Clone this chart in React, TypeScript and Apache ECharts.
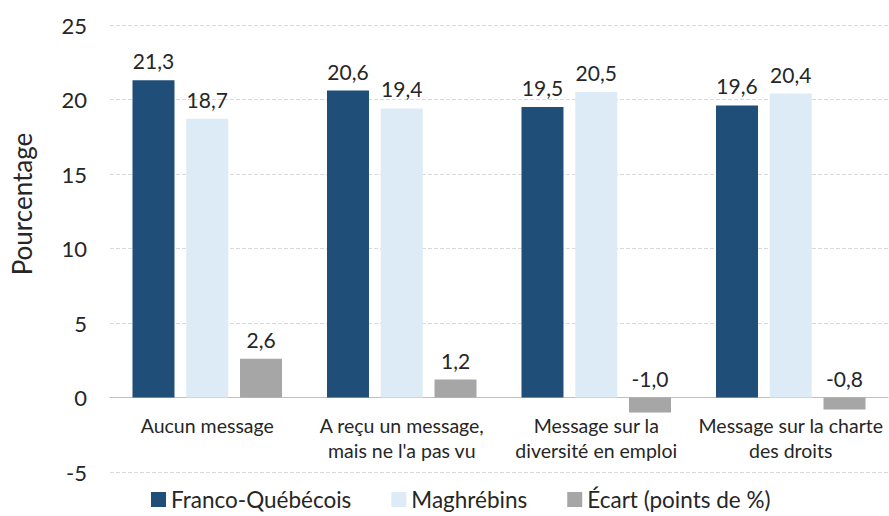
import React, { useEffect, useRef } from "react";
import * as echarts from "echarts";

const categories = [
  "Aucun message",
  "A reçu un message,\nmais ne l'a pas vu",
  "Message sur la\ndiversité en emploi",
  "Message sur la charte\ndes droits",
];
const francoQuebecois = [21.3, 20.6, 19.5, 19.6];
const maghrebins = [18.7, 19.4, 20.5, 20.4];
const ecart = [2.6, 1.2, -1.0, -0.8];
const seriesNames = ["Franco-Québécois", "Maghrébins", "Écart (points de %)"];
const yMin = -5;
const yMax = 25;
const yInterval = 5;

const FONT = "Lato, 'Open Sans', sans-serif";
const fmt = (v: number) => v.toFixed(1).replace(".", ",");

export default function App() {
  const ref = useRef<HTMLDivElement>(null);
  useEffect(() => {
    if (!ref.current) return;
    const chart = echarts.init(ref.current, undefined, { renderer: "svg" });
    const gridTop = 25;
    const gridBottom = 44;
    const plotH = 516 - gridTop - gridBottom;
    const zeroOffset = (plotH * (0 - yMin)) / (yMax - yMin);
    const label = {
      show: true,
      position: "top" as const,
      distance: 9,
      fontSize: 21,
      color: "#262626",
      fontFamily: FONT,
      formatter: (p: any) => fmt(p.value),
    };
    const mk = (name: string, data: number[], color: string) => ({
      name,
      type: "bar" as const,
      data,
      barWidth: 42,
      barGap: "28%",
      itemStyle: { color },
      label,
    });
    chart.setOption({
      animation: false,
      textStyle: { fontFamily: FONT },
      grid: {
        left: 110,
        right: 1,
        top: gridTop,
        bottom: gridBottom,
        containLabel: false,
        outerBoundsMode: "none",
      },
      legend: {
        bottom: 0,
        left: 146,
        itemWidth: 15,
        itemHeight: 15,
        itemGap: 40,
        icon: "rect",
        textStyle: { fontSize: 22.5, color: "#262626", fontFamily: FONT },
        data: seriesNames,
      },
      xAxis: {
        type: "category",
        data: categories,
        position: "bottom",
        offset: -zeroOffset,
        axisTick: { show: false },
        axisLine: { show: true, onZero: false, lineStyle: { color: "#BFBFBF", width: 1 } },
        axisLabel: {
          fontSize: 19.5,
          color: "#262626",
          fontFamily: FONT,
          lineHeight: 25,
          margin: 15,
          interval: 0,
        },
      },
      yAxis: {
        type: "value",
        min: yMin,
        max: yMax,
        interval: yInterval,
        axisLine: { show: false },
        axisTick: { show: false },
        axisLabel: { fontSize: 22, color: "#262626", fontFamily: FONT, margin: 23 },
        splitLine: { lineStyle: { color: "#D9D9D9", type: [4, 2], width: 1 } },
      },
      graphic: [
        {
          type: "text",
          x: 22,
          y: 204,
          rotation: Math.PI / 2,
          style: {
            text: "Pourcentage",
            fontSize: 26,
            fill: "#262626",
            fontFamily: FONT,
            align: "center",
            verticalAlign: "middle",
          },
        },
      ],
      series: [
        mk(seriesNames[0], francoQuebecois, "#1F4E79"),
        mk(seriesNames[1], maghrebins, "#DDEBF7"),
        mk(seriesNames[2], ecart, "#A6A6A6"),
      ],
    });
    return () => chart.dispose();
  }, []);
  return (
    <div
      ref={ref}
      style={{ position: "absolute", left: 0, top: 0, width: 889, height: 516, background: "#fff" }}
    />
  );
}
